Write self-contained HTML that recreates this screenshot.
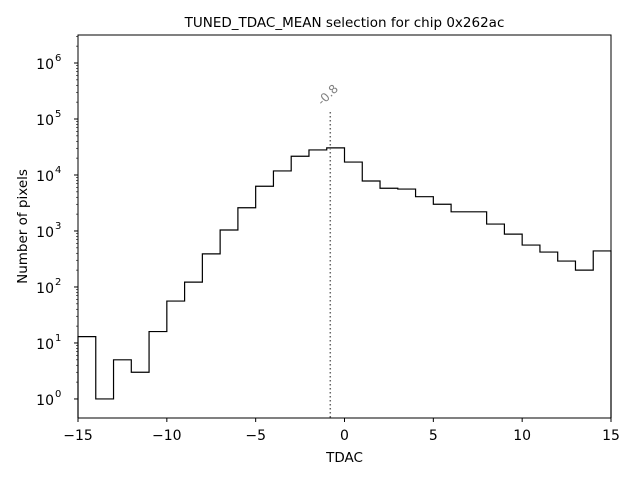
<!DOCTYPE html>
<html><head><meta charset="utf-8"><style>
body{margin:0;background:#fff;}
svg{display:block;font-family:"DejaVu Sans","Liberation Sans",sans-serif;}
</style></head><body>
<svg id="chart" width="640" height="480">
<text x="344.5" y="27" text-anchor="middle" font-size="13.5">TUNED_TDAC_MEAN selection for chip 0x262ac</text>
<g id="plot"></g>
<rect x="78" y="35" width="533" height="383" fill="none" stroke="#000" stroke-width="1"/>
<text x="344.5" y="462" text-anchor="middle" font-size="13.5">TDAC</text>
<text transform="translate(27,226.5) rotate(-90)" text-anchor="middle" font-size="13.5">Number of pixels</text>
</svg>
<script>
const binEdgesStart = -15;
const counts = [13,1,5,3,16,56,122,390,1040,2600,6300,11800,21600,28000,30500,17000,7800,5800,5600,4100,3000,2200,2200,1330,880,560,420,290,200,440];
const xTicks = [-15,-10,-5,0,5,10,15];
const yTicks = [0,1,2,3,4,5,6];
const meanValue = -0.8;
const X0=78,X1=611,Y0=418,Y1=35,XMIN=-15,XMAX=15,LMIN=-0.34,LMAX=6.5;
const sx=v=>X0+(v-XMIN)/(XMAX-XMIN)*(X1-X0);
const sy=v=>Y0-(Math.log10(v)-LMIN)/(LMAX-LMIN)*(Y0-Y1);
const sl=l=>Y0-(l-LMIN)/(LMAX-LMIN)*(Y0-Y1);
const NS="http://www.w3.org/2000/svg";
const g=document.getElementById('plot');
function mk(t,a){const e=document.createElementNS(NS,t);for(const k in a)e.setAttribute(k,a[k]);g.appendChild(e);return e;}
let d=`M${sx(binEdgesStart)},${Y0}`;
counts.forEach((c,i)=>{d+=` L${sx(binEdgesStart+i)},${sy(c)} L${sx(binEdgesStart+i+1)},${sy(c)}`;});
d+=` L${sx(binEdgesStart+counts.length)},${Y0}`;
const p=mk('path',{d:d,fill:'none',stroke:'#000','stroke-width':1.2});


const ml=mk('line',{x1:sx(meanValue),x2:sx(meanValue),y1:112,y2:Y0,stroke:'#666','stroke-width':1.5,'stroke-dasharray':'1.5,2.5'});


const mt=mk('text',{x:0,y:0,transform:`translate(${sx(meanValue)-8},106) rotate(-45)`,'font-size':12,fill:'#808080'});
mt.textContent=String(meanValue);


xTicks.forEach(v=>{
 const x=sx(v);
 const l=mk('line',{x1:x,x2:x,y1:Y0,y2:Y0+4,stroke:'#000'});
 
 
 const t=mk('text',{x:x,y:Y0+22,'text-anchor':'middle','font-size':14});
 t.textContent=v<0?'\u2212'+(-v):String(v);
 
 
});
yTicks.forEach(v=>{
 const y=sl(v);
 const l=mk('line',{x1:X0-4,x2:X0,y1:y,y2:y,stroke:'#000'});
 
 
 const t=mk('text',{x:X0-24,y:y+6,'text-anchor':'end','font-size':14});
 t.textContent='10';
 
 
 const s=mk('text',{x:X0-23,y:y-2,'font-size':10});
 s.textContent=String(v);
 
 
 for(let k=2;k<10;k++){const ly=sl(v+Math.log10(k));if(ly>Y1&&ly<Y0){const m=mk('line',{x1:X0-2,x2:X0,y1:ly,y2:ly,stroke:'#000','stroke-width':0.6});}}
});
</script>
</body></html>
